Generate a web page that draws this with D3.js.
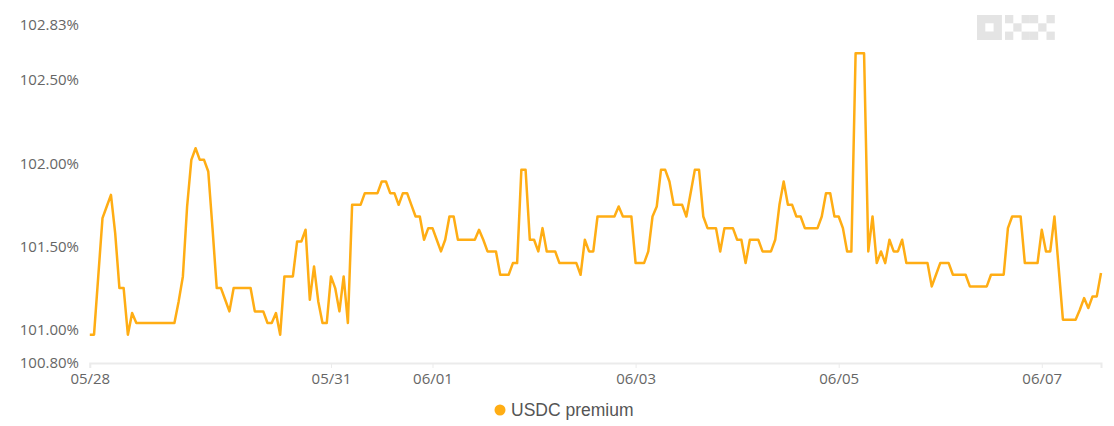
<!DOCTYPE html>
<html>
<head>
<meta charset="utf-8">
<script src="https://cdn.jsdelivr.net/npm/d3@7"></script>
<style>
    body { margin: 0; background: #fff; }
    svg { display: block; font-family: "Open Sans", "Liberation Sans", Arial, sans-serif; }
</style>
</head>
<body>
<div id="chart"></div>
<script>
// hourly USDC premium (%)
const premium = [
    100.97, 100.97, 101.32, 101.67, 101.74, 101.81, 101.58, 101.25, 101.25, 100.97,
    101.10, 101.04, 101.04, 101.04, 101.04, 101.04, 101.04, 101.04, 101.04, 101.04,
    101.04, 101.17, 101.32, 101.74, 102.02, 102.09, 102.02, 102.02, 101.95, 101.61,
    101.25, 101.25, 101.18, 101.11, 101.25, 101.25, 101.25, 101.25, 101.25, 101.11,
    101.11, 101.11, 101.04, 101.04, 101.10, 100.97, 101.32, 101.32, 101.32, 101.53,
    101.53, 101.60, 101.18, 101.38, 101.17, 101.04, 101.04, 101.32, 101.25, 101.11,
    101.32, 101.04, 101.75, 101.75, 101.75, 101.82, 101.82, 101.82, 101.82, 101.89,
    101.89, 101.82, 101.82, 101.75, 101.82, 101.82, 101.75, 101.68, 101.68, 101.54,
    101.61, 101.61, 101.54, 101.47, 101.54, 101.68, 101.68, 101.54, 101.54, 101.54,
    101.54, 101.54, 101.60, 101.54, 101.47, 101.47, 101.47, 101.33, 101.33, 101.33,
    101.40, 101.40, 101.96, 101.96, 101.54, 101.54, 101.47, 101.61, 101.47, 101.47,
    101.47, 101.40, 101.40, 101.40, 101.40, 101.40, 101.33, 101.54, 101.47, 101.47,
    101.68, 101.68, 101.68, 101.68, 101.68, 101.74, 101.68, 101.68, 101.68, 101.40,
    101.40, 101.40, 101.47, 101.68, 101.74, 101.96, 101.96, 101.89, 101.75, 101.75,
    101.75, 101.68, 101.82, 101.96, 101.96, 101.68, 101.61, 101.61, 101.61, 101.47,
    101.61, 101.61, 101.61, 101.54, 101.54, 101.40, 101.54, 101.54, 101.54, 101.47,
    101.47, 101.47, 101.54, 101.75, 101.89, 101.75, 101.75, 101.68, 101.68, 101.61,
    101.61, 101.61, 101.61, 101.68, 101.82, 101.82, 101.68, 101.68, 101.61, 101.47,
    101.47, 102.66, 102.66, 102.66, 101.47, 101.68, 101.40, 101.47, 101.40, 101.54,
    101.47, 101.47, 101.54, 101.40, 101.40, 101.40, 101.40, 101.40, 101.40, 101.26,
    101.33, 101.40, 101.40, 101.40, 101.33, 101.33, 101.33, 101.33, 101.26, 101.26,
    101.26, 101.26, 101.26, 101.33, 101.33, 101.33, 101.33, 101.61, 101.68, 101.68,
    101.68, 101.40, 101.40, 101.40, 101.40, 101.60, 101.47, 101.47, 101.68, 101.37,
    101.06, 101.06, 101.06, 101.06, 101.12, 101.19, 101.13, 101.20, 101.20, 101.34
];

// x axis: hour index of each date label
const dateTickIndex = [0, 57, 81, 129, 177, 225];
const dateTickLabels = ['05/28', '05/31', '06/01', '06/03', '06/05', '06/07'];

// y axis labels
const yTickValues = [100.8, 101, 101.5, 102, 102.5, 102.83];

const seriesName = 'USDC premium';

const width = 1114, height = 426;
const lineColor = '#ffad14';

const svg = d3.select('#chart')
    .append('svg')
    .attr('width', width)
    .attr('height', height);

// scales
const x = d3.scaleLinear()
    .domain([0, premium.length - 1])
    .range([89.8, 1101]);
const y = d3.scaleLinear()
    .domain([100.8, 102.83])
    .range([363, 25]);

// watermark logo (O K X blocks)
const logoG = svg.append('g').attr('fill', '#e4e4e4');
const cell = 8.3, lx = 977, ly = 15;
logoG.append('path')
    .attr('fill-rule', 'evenodd')
    .attr('d', `M${lx},${ly}h${cell * 3}v${cell * 3}h${-cell * 3}z M${lx + cell},${ly + cell}v${cell}h${cell}v${-cell}z`);
const xCells = [[0, 0], [2, 0], [1, 1], [0, 2], [2, 2]];
[lx + 28, lx + 28 + cell * 3].forEach(ox => {
    xCells.forEach(c => {
        logoG.append('rect')
            .attr('x', ox + c[0] * cell)
            .attr('y', ly + c[1] * cell)
            .attr('width', cell)
            .attr('height', cell);
    });
});

// bottom axis
const xAxis = d3.axisBottom(x)
    .tickValues(dateTickIndex)
    .tickFormat((d, i) => dateTickLabels[i])
    .tickSize(5)
    .tickPadding(5);
const xg = svg.append('g')
    .attr('transform', `translate(0,${y(100.8)})`)
    .call(xAxis);
xg.select('.domain').attr('stroke', '#ebebeb').attr('stroke-width', 2);
xg.selectAll('.tick line').attr('stroke', '#ebebeb');
xg.selectAll('.tick text')
    .attr('fill', '#666')
    .style('font-family', '"Open Sans", sans-serif')
    .style('font-size', '15px');

// left axis, labels only
const yAxis = d3.axisLeft(y)
    .tickValues(yTickValues)
    .tickFormat(d => d3.format('.2f')(d) + '%')
    .tickSize(0)
    .tickPadding(0);
const yg = svg.append('g')
    .attr('transform', 'translate(79,0)')
    .call(yAxis);
yg.select('.domain').remove();
yg.selectAll('.tick text')
    .attr('fill', '#666')
    .style('font-family', '"Open Sans", sans-serif')
    .style('font-size', '15px');

// the premium line
const line = d3.line()
    .x((d, i) => x(i))
    .y(d => y(d));
svg.append('path')
    .datum(premium)
    .attr('fill', 'none')
    .attr('stroke', lineColor)
    .attr('stroke-width', 2.5)
    .attr('stroke-linejoin', 'round')
    .attr('d', line);

// legend
const legendG = svg.append('g').attr('transform', 'translate(500,410)');
legendG.append('circle')
    .attr('r', 5.5)
    .attr('fill', lineColor);
legendG.append('text')
    .attr('x', 11)
    .attr('dy', '0.35em')
    .attr('fill', '#555')
    .style('font-family', '"Liberation Sans", Arial, sans-serif')
    .style('font-size', '17.5px')
    .text(seriesName);
</script>
</body>
</html>
